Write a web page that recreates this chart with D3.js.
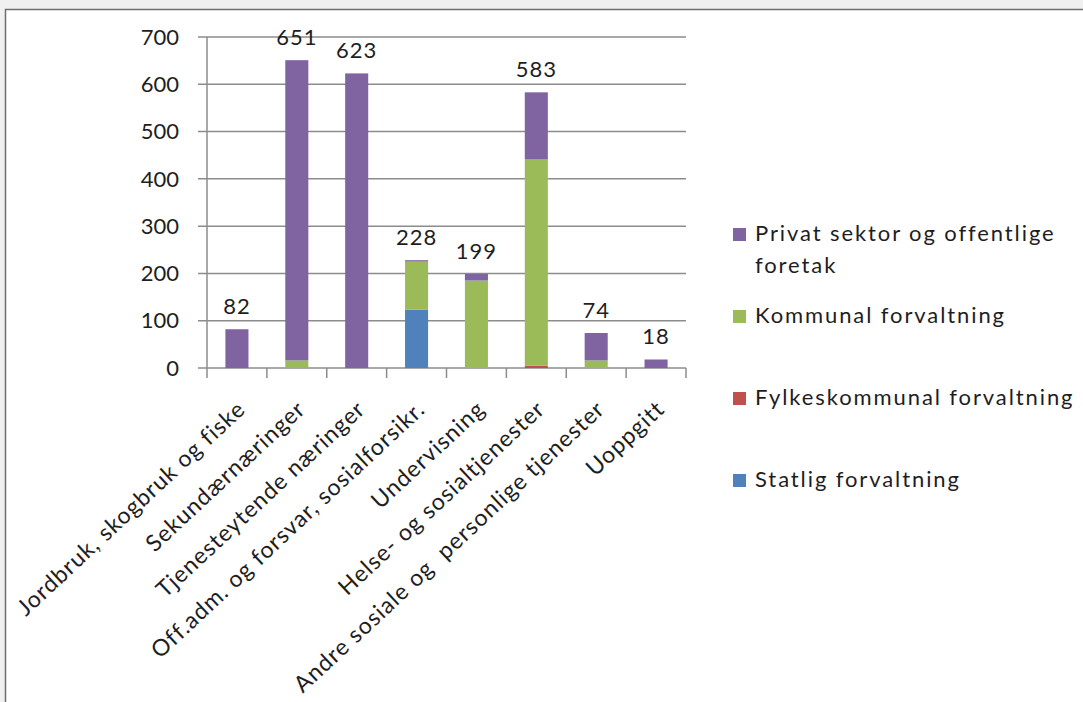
<!DOCTYPE html>
<html>
<head>
<meta charset="utf-8">
<script src="https://cdn.jsdelivr.net/npm/d3@7"></script>
<style>
body{margin:0;background:#f0f0f0;}
svg text{font-family:Lato,"Open Sans",sans-serif;fill:#1e1e1e;}
</style>
</head>
<body>
<svg id="chart"></svg>
<script>
var categories = ["Jordbruk, skogbruk og fiske","Sekundærnæringer","Tjenesteytende næringer",
    "Off.adm. og forsvar, sosialforsikr.","Undervisning","Helse- og sosialtjenester",
    "Andre sosiale og  personlige tjenester","Uoppgitt"];
var seriesNames = ["Statlig forvaltning","Fylkeskommunal forvaltning","Kommunal forvaltning","Privat sektor og offentlige foretak"];
var statlig  = [0,0,0,123,0,0,0,0];
var fylkes   = [0,0,0,0,0,5,0,0];
var kommunal = [0,16,0,102,185,436,16,0];
var privat   = [82,635,623,3,14,142,58,18];
var totals   = [82,651,623,228,199,583,74,18];
var yTicks   = [0,100,200,300,400,500,600,700];
var colors   = {"Statlig forvaltning":"#4f81bd","Fylkeskommunal forvaltning":"#c0504d",
                "Kommunal forvaltning":"#9bbb59","Privat sektor og offentlige foretak":"#8064a2"};

var screen = {width:1083,height:702}
var plot = {left:207,right:686,top:37,bottom:368}

var svg = d3.select("#chart")
    .attr("width",screen.width)
    .attr("height",screen.height)

// white frame
svg.append("rect")
    .attr("x",5.5).attr("y",9.5)
    .attr("width",1100).attr("height",720)
    .attr("fill","#fff")
    .attr("stroke","#6e6e6e")
    .attr("stroke-width",1.5)

var rows = categories.map(function(c,i){
    return {cat:c,"Statlig forvaltning":statlig[i],"Fylkeskommunal forvaltning":fylkes[i],
            "Kommunal forvaltning":kommunal[i],"Privat sektor og offentlige foretak":privat[i],total:totals[i]}
})

var xScale = d3.scaleBand()
    .domain(categories)
    .range([plot.left,plot.right])
    .paddingInner(0.615)
    .paddingOuter(0.3075)
var yScale = d3.scaleLinear()
    .domain([0,700])
    .range([plot.bottom,plot.top])

// gridlines
svg.append("g")
    .selectAll("line")
    .data(yTicks)
    .enter()
    .append("line")
    .attr("x1",plot.left-9)
    .attr("x2",plot.right)
    .attr("y1",function(d){return yScale(d)})
    .attr("y2",function(d){return yScale(d)})
    .attr("stroke","#8c8c8c")
    .attr("stroke-width",1.5)

// y axis line
svg.append("line")
    .attr("x1",plot.left).attr("x2",plot.left)
    .attr("y1",plot.top).attr("y2",plot.bottom)
    .attr("stroke","#8c8c8c").attr("stroke-width",1.5)

// x axis ticks at category boundaries
var bounds = d3.range(categories.length+1).map(function(i){return plot.left+i*xScale.step()})
svg.append("g")
    .selectAll("line")
    .data(bounds)
    .enter()
    .append("line")
    .attr("x1",function(d){return d}).attr("x2",function(d){return d})
    .attr("y1",plot.bottom).attr("y2",plot.bottom+10)
    .attr("stroke","#8c8c8c").attr("stroke-width",1.5)

// y tick labels
svg.append("g")
    .selectAll("text")
    .data(yTicks)
    .enter()
    .append("text")
    .text(function(d){return d})
    .attr("x",179)
    .attr("y",function(d){return yScale(d)})
    .attr("dy","0.35em")
    .attr("text-anchor","end")
    .style("font-size","22px")

// stacked bars
var stack = d3.stack().keys(seriesNames)
var layers = stack(rows)
svg.append("g")
    .selectAll("g")
    .data(layers)
    .enter()
    .append("g")
    .attr("fill",function(layer){return colors[layer.key]})
    .selectAll("rect")
    .data(function(layer){return layer})
    .enter()
    .append("rect")
    .attr("x",function(d){return xScale(d.data.cat)})
    .attr("width",xScale.bandwidth())
    .attr("y",function(d){return yScale(d[1])})
    .attr("height",function(d){return yScale(d[0])-yScale(d[1])})

// total labels
svg.append("g")
    .selectAll("text")
    .data(rows)
    .enter()
    .append("text")
    .text(function(d){return d.total})
    .attr("x",function(d){return xScale(d.cat)+xScale.bandwidth()/2})
    .attr("y",function(d){return yScale(d.total)-15})
    .attr("text-anchor","middle")
    .style("font-size","22px")
    .style("letter-spacing","1px")

// category labels
svg.append("g")
    .selectAll("text")
    .data(categories)
    .enter()
    .append("text")
    .text(function(d){return d})
    .attr("transform",function(d){
        return "translate("+(xScale(d)+xScale.bandwidth()/2+10)+","+(plot.bottom+43)+") rotate(-43)"
    })
    .attr("text-anchor","end")
    .style("font-size","23px")
    .style("letter-spacing","1px")
    .style("white-space","pre")

// legend
var legendData = [
    {name:"Privat sektor og offentlige foretak",lines:["Privat sektor og offentlige","foretak"]},
    {name:"Kommunal forvaltning",lines:["Kommunal forvaltning"]},
    {name:"Fylkeskommunal forvaltning",lines:["Fylkeskommunal forvaltning"]},
    {name:"Statlig forvaltning",lines:["Statlig forvaltning"]}
]
var legend = svg.append("g")
    .attr("transform","translate(733,241)")
var entries = legend.selectAll("g")
    .data(legendData)
    .enter()
    .append("g")
    .attr("transform",function(d,i){return "translate(0,"+(i*82)+")"})
entries.append("rect")
    .attr("x",0).attr("y",-13)
    .attr("width",13).attr("height",13)
    .attr("fill",function(d){return colors[d.name]})
entries.append("text")
    .attr("x",22)
    .style("font-size","22px")
    .style("letter-spacing","1.9px")
    .selectAll("tspan")
    .data(function(d){return d.lines})
    .enter()
    .append("tspan")
    .attr("x",22)
    .attr("dy",function(d,i){return i==0?0:32})
    .text(function(d){return d})
</script>
</body>
</html>
